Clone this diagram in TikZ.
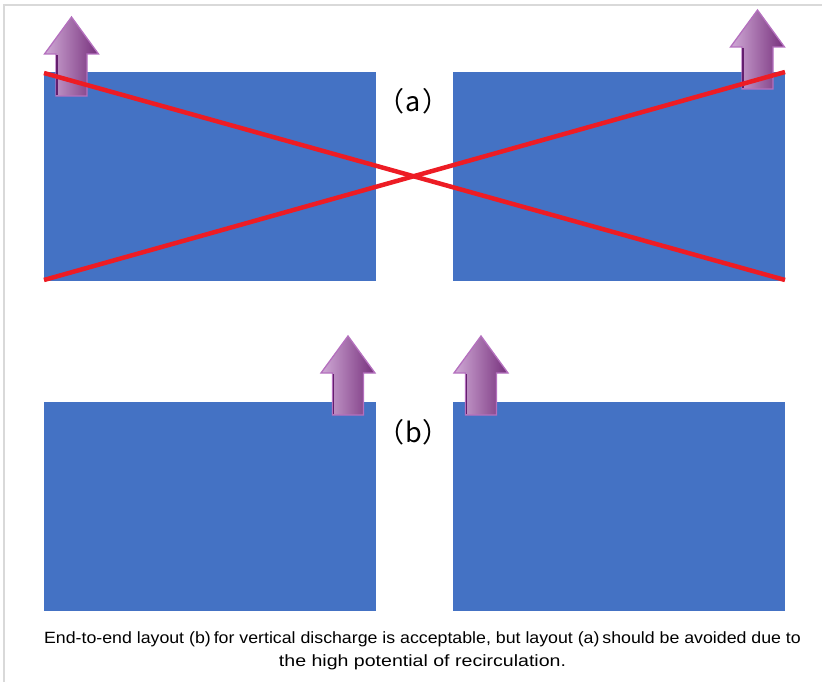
\documentclass[tikz,border=0pt]{standalone}
\usepackage{fontspec}
\usepackage{graphicx}
\setmainfont{Liberation Sans}
\newfontfamily\cjkfont{Noto Sans CJK SC}
\definecolor{boxblue}{RGB}{68,114,196}
\definecolor{crossred}{RGB}{237,28,36}
\definecolor{arrlight}{RGB}{208,170,214}
\definecolor{arrdark}{RGB}{118,48,124}
\definecolor{arredge}{RGB}{180,112,190}
\definecolor{arrshadow}{RGB}{100,30,110}
\definecolor{framegray}{RGB}{217,217,217}
\tikzset{
  box/.style={fill=boxblue, draw=none},
  cross/.style={draw=crossred, line width=4.5pt},
  lbl/.style={font=\cjkfont\fontsize{27}{30}\selectfont, inner sep=0pt},
  caption/.style={font=\fontsize{16.3}{23}\selectfont, inner sep=0pt, anchor=base},
  uparr/.pic={
    \path[left color=arrlight, right color=arrdark, draw=arredge, line width=1.3pt, line join=miter]
      (0,0) -- (27,37) -- (15.5,37) -- (15.5,79) -- (-15.5,79) -- (-15.5,37) -- (-27,37) -- cycle;
    \draw[arrshadow, line width=1.2pt] (-14.5,38) -- (-14.5,78);
  }
}
\begin{document}
\begin{tikzpicture}[x=1pt, y=-1pt]
\useasboundingbox (0,0) rectangle (822,682);
\draw[framegray, line width=1.2pt] (4,682) -- (4,5) -- (822,5);
% boxes
\path[box] (44,72) rectangle (376,281);
\path[box] (453,72) rectangle (785,281);
\path[box] (44,402) rectangle (376,611);
\path[box] (453,402) rectangle (785,611);
% arrows
\pic at (71.5,17) {uparr};
\pic at (757.5,10) {uparr};
\pic at (348,336) {uparr};
\pic at (481,336) {uparr};
% cross
\coordinate (c1) at (44,73);
\coordinate (c2) at (785,280);
\coordinate (c3) at (44,280);
\coordinate (c4) at (785,72);
\draw[cross] (c1) -- (c2);
\draw[cross] (c3) -- (c4);
% labels
\node[lbl] (la) at (413.5,101) {（\kern1pt a\kern1pt）};
\node[lbl] (lb) at (413.5,432) {（\kern1pt b\kern1pt）};
\node[caption] (cap1) at (422.5,643.3) {\scalebox{1.089}[1]{End-to-end layout (b)\,for vertical discharge is acceptable, but layout (a)\,should be avoided due to}};
\node[caption] (cap2) at (422.5,666.3) {\scalebox{1.2}[1]{the high potential of recirculation.}};
\end{tikzpicture}
\end{document}
